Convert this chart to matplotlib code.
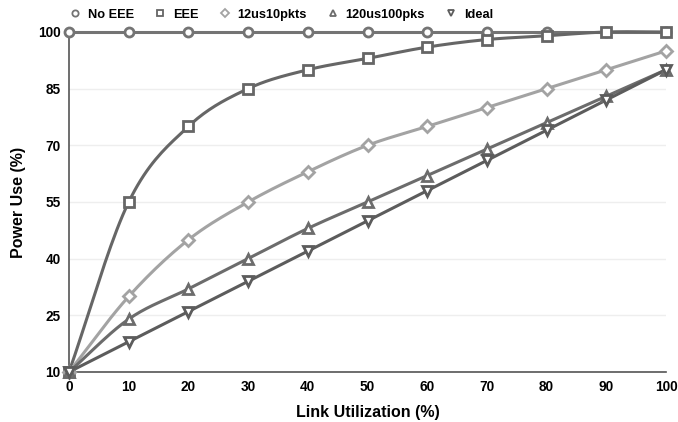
import numpy as np
import matplotlib
matplotlib.use('Agg')
import matplotlib.pyplot as plt

plt.rcParams['font.family'] = ['Liberation Sans', 'DejaVu Sans']
plt.rcParams['font.weight'] = 'bold'

utilization = [0, 10, 20, 30, 40, 50, 60, 70, 80, 90, 100]
no_eee = [100, 100, 100, 100, 100, 100, 100, 100, 100, 100, 100]
eee = [10, 55, 75, 85, 90, 93, 96, 98, 99, 100, 100]
us12_10pkts = [10, 30, 45, 55, 63, 70, 75, 80, 85, 90, 95]
us120_100pks = [10, 24, 32, 40, 48, 55, 62, 69, 76, 83, 90]
ideal = [10, 18, 26, 34, 42, 50, 58, 66, 74, 82, 90]

y_ticks = [10, 25, 40, 55, 70, 85, 100]
x_ticks = [0, 10, 20, 30, 40, 50, 60, 70, 80, 90, 100]


def smooth(xs, ys, n=20):
    # Catmull-Rom curve through the points, only for drawing the line
    xs = np.asarray(xs, float)
    ys = np.asarray(ys, float)
    px = np.concatenate([[2 * xs[0] - xs[1]], xs, [2 * xs[-1] - xs[-2]]])
    py = np.concatenate([[2 * ys[0] - ys[1]], ys, [2 * ys[-1] - ys[-2]]])
    out_x, out_y = [], []
    t = np.linspace(0, 1, n, endpoint=False)
    for i in range(1, len(px) - 2):
        for p, out in ((px, out_x), (py, out_y)):
            p0, p1, p2, p3 = p[i - 1], p[i], p[i + 1], p[i + 2]
            out.extend(0.5 * ((2 * p1) + (-p0 + p2) * t +
                              (2 * p0 - 5 * p1 + 4 * p2 - p3) * t ** 2 +
                              (-p0 + 3 * p1 - 3 * p2 + p3) * t ** 3))
    out_x.append(xs[-1])
    out_y.append(ys[-1])
    return out_x, out_y


fig = plt.figure(figsize=(6.78, 4.22), dpi=100)
ax = fig.add_axes([0.1018, 0.1185, 0.8805, 0.8057])

series = [
    ('No EEE', no_eee, 'o', '#747474', 6.5),
    ('EEE', eee, 's', '#666666', 6.5),
    ('12us10pkts', us12_10pkts, 'D', '#a3a3a3', 6.5),
    ('120us100pks', us120_100pks, '^', '#6c6c6c', 7.5),
    ('Ideal', ideal, 'v', '#5c5c5c', 7.5),
]

for name, vals, marker, color, ms in series:
    sx, sy = smooth(utilization, vals)
    ax.plot(sx, sy, color=color, lw=2.2, clip_on=False, zorder=3)
    ax.plot(utilization, vals, linestyle='none', marker=marker, ms=ms,
            mfc='white', mec=color, mew=2.0, clip_on=False, zorder=4)
    ax.plot([], [], linestyle='none', marker=marker, ms=4.5, mfc='white',
            mec=color, mew=1.3, label=name)

ax.set_xlim(0, 100)
ax.set_ylim(10, 100)
ax.set_xticks(x_ticks)
ax.set_yticks(y_ticks)
ax.tick_params(length=0, labelsize=9.8, pad=6)
for lab in ax.get_xticklabels() + ax.get_yticklabels():
    lab.set_fontweight('bold')

ax.grid(axis='y', color='#eeeeee', lw=1)
ax.set_axisbelow(True)
for side in ['top', 'right']:
    ax.spines[side].set_visible(False)
for side in ['left', 'bottom']:
    ax.spines[side].set_color('#555555')
    ax.spines[side].set_linewidth(1.2)

ax.set_xlabel('Link Utilization (%)', fontsize=11.5, fontweight='bold', labelpad=8)
ax.set_ylabel('Power Use (%)', fontsize=11.5, fontweight='bold', labelpad=9)

leg = fig.legend(loc='center left', bbox_to_anchor=(0.0937, 0.965), ncol=5,
                 frameon=False, prop={'size': 9.2, 'weight': 'bold'},
                 handlelength=1.0, handletextpad=0.5, columnspacing=1.55,
                 borderaxespad=0.0)

fig.savefig('out.png', dpi=100)
